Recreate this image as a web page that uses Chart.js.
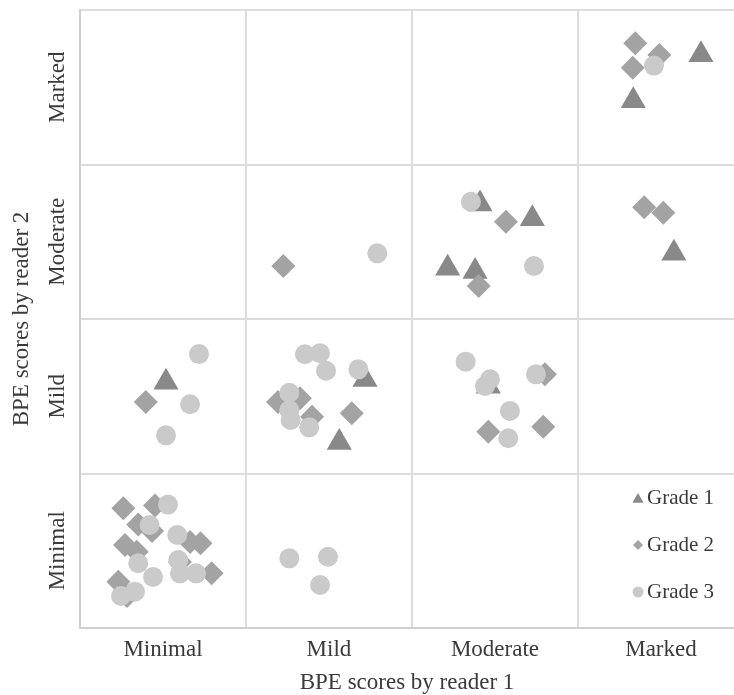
<!DOCTYPE html>
<html>
<head>
<meta charset="utf-8">
<script src="https://cdn.jsdelivr.net/npm/chart.js@4.4.0/dist/chart.umd.min.js"></script>
<style>
  html, body { margin: 0; padding: 0; background: #ffffff; overflow: hidden; }
  #wrap { width: 734px; height: 695px; position: relative; }
</style>
</head>
<body>
<div id="wrap"><canvas id="chart"></canvas></div>
<script>
// Score categories (same scale for both readers)
const xCategories = ['Minimal', 'Mild', 'Moderate', 'Marked'];
const yCategories = ['Minimal', 'Mild', 'Moderate', 'Marked'];
const seriesNames = ['Grade 1', 'Grade 2', 'Grade 3'];
const xTitle = 'BPE scores by reader 1';
const yTitle = 'BPE scores by reader 2';

// Each category occupies the band [i, i+1]; points are jittered inside their band.
const grade1X = [3.741, 3.333, 2.410, 2.725, 2.215, 2.380, 3.578, 0.518, 1.717, 1.562, 2.460];
const grade1Y = [3.711, 3.412, 2.745, 2.649, 2.329, 2.307, 2.426, 1.590, 1.608, 1.201, 1.564];

const grade2X = [3.345, 3.490, 3.330, 2.566, 2.402, 3.399, 3.514, 1.225, 0.396, 1.637, 1.325, 1.398,
                 1.193, 2.801, 2.460, 2.791, 0.261, 0.452, 0.351, 0.434, 0.663, 0.726, 0.271, 0.342,
                 0.793, 0.231, 0.602, 0.283];
const grade2Y = [3.784, 3.709, 3.627, 2.630, 2.214, 2.723, 2.688, 2.343, 1.463, 1.390, 1.487, 1.368,
                 1.463, 1.642, 1.271, 1.303, 0.775, 0.793, 0.670, 0.628, 0.557, 0.548, 0.537, 0.494,
                 0.354, 0.300, 0.427, 0.207];

const grade3X = [3.458, 2.355, 2.735, 1.791, 0.717, 0.663, 0.518, 1.355, 1.446, 1.482, 1.677, 1.261,
                 1.261, 1.269, 1.381, 2.323, 2.470, 2.440, 2.747, 2.590, 2.580, 0.530, 0.419, 0.586,
                 0.351, 0.592, 0.602, 0.699, 0.440, 0.247, 0.331, 1.261, 1.494, 1.446];
const grade3Y = [3.640, 2.759, 2.343, 2.425, 1.773, 1.448, 1.247, 1.772, 1.778, 1.665, 1.674, 1.523,
                 1.411, 1.346, 1.299, 1.724, 1.610, 1.566, 1.642, 1.405, 1.228, 0.799, 0.667, 0.602,
                 0.419, 0.440, 0.354, 0.354, 0.330, 0.207, 0.235, 0.451, 0.461, 0.278];

const toPoints = (xs, ys) => xs.map((x, i) => ({ x: x, y: ys[i] }));

const FONT = '"Liberation Serif", "Times New Roman", serif';
const TEXT = '#3a3a3a';
const GRID = '#dcdcdc';

const styles = [
  { pointStyle: 'triangle', radius: 14.5, color: '#898989', legendRadius: 6.5 },
  { pointStyle: 'rectRot',  radius: 12,   color: '#a3a3a3', legendRadius: 5 },
  { pointStyle: 'circle',   radius: 10,   color: '#cacaca', legendRadius: 5.5 }
];
const seriesPoints = [toPoints(grade1X, grade1Y), toPoints(grade2X, grade2Y), toPoints(grade3X, grade3Y)];

// Rotated category names on the left side, centred in each row band
const yCategoryLabels = {
  id: 'yCategoryLabels',
  afterDraw(chart) {
    const { ctx, chartArea } = chart;
    const ys = chart.scales.y;
    ctx.save();
    ctx.font = '23px ' + FONT;
    ctx.fillStyle = TEXT;
    ctx.textAlign = 'center';
    ctx.textBaseline = 'middle';
    yCategories.forEach((name, i) => {
      const py = ys.getPixelForValue(i + 0.5);
      ctx.save();
      ctx.translate(chartArea.left - 22, py);
      ctx.rotate(-Math.PI / 2);
      ctx.fillText(name, 0, 0);
      ctx.restore();
    });
    ctx.restore();
  }
};

// Legend drawn inside the lower-right cell
const insideLegend = {
  id: 'insideLegend',
  afterDraw(chart) {
    const { ctx, chartArea } = chart;
    ctx.save();
    ctx.font = '21px ' + FONT;
    ctx.textBaseline = 'middle';
    ctx.textAlign = 'left';
    chart.data.datasets.forEach((ds, i) => {
      const st = styles[i];
      const mx = chartArea.right - 96;
      const my = chartArea.bottom - 130 + i * 47;
      ctx.fillStyle = st.color;
      ctx.strokeStyle = st.color;
      Chart.helpers.drawPoint(ctx, { pointStyle: st.pointStyle, radius: st.legendRadius, rotation: 0, borderWidth: 0 }, mx, my + (st.pointStyle === 'triangle' ? 1.5 : 0));
      ctx.fillStyle = TEXT;
      ctx.fillText(ds.label, mx + 9, my);
    });
    ctx.restore();
  }
};

new Chart(document.getElementById('chart'), {
  type: 'scatter',
  data: {
    datasets: seriesNames.map((name, i) => ({
      label: name,
      data: seriesPoints[i],
      pointStyle: styles[i].pointStyle,
      pointRadius: styles[i].radius,
      pointHoverRadius: styles[i].radius,
      pointBackgroundColor: styles[i].color,
      pointBorderWidth: 0,
      backgroundColor: styles[i].color,
      borderColor: styles[i].color,
      order: 2 - i
    }))
  },
  options: {
    responsive: true,
    maintainAspectRatio: false,
    animation: false,
    layout: { autoPadding: false, padding: { top: 10, left: 0, right: 0, bottom: 0 } },
    plugins: { legend: { display: false }, tooltip: { enabled: false } },
    scales: {
      x: {
        type: 'linear',
        min: 0,
        max: 3.94,
        afterBuildTicks: (scale) => { scale.ticks = xCategories.map((_, i) => ({ value: i + 0.5 })); },
        afterFit: (scale) => { scale.height = 67; },
        ticks: {
          callback: (v) => xCategories[Math.floor(v)],
          font: { family: FONT, size: 23 },
          color: TEXT,
          padding: 8,
          maxRotation: 0,
          autoSkip: false
        },
        grid: { color: GRID, lineWidth: 2, offset: true, drawTicks: false },
        border: { color: '#cfcfcf', width: 2 },
        title: {
          display: true,
          text: xTitle,
          font: { family: FONT, size: 23 },
          color: TEXT,
          padding: { top: 0, bottom: -2 }
        }
      },
      y: {
        type: 'linear',
        min: 0,
        max: 4,
        afterBuildTicks: (scale) => { scale.ticks = yCategories.map((_, i) => ({ value: i + 0.5 })); },
        afterFit: (scale) => { scale.width = 80; },
        ticks: { display: false },
        grid: { color: GRID, lineWidth: 2, offset: true, drawTicks: false },
        border: { color: '#cfcfcf', width: 2 },
        title: {
          display: true,
          text: yTitle,
          font: { family: FONT, size: 23 },
          color: TEXT,
          padding: { top: 8, bottom: 0 }
        }
      }
    }
  },
  plugins: [yCategoryLabels, insideLegend]
});
</script>
</body>
</html>
